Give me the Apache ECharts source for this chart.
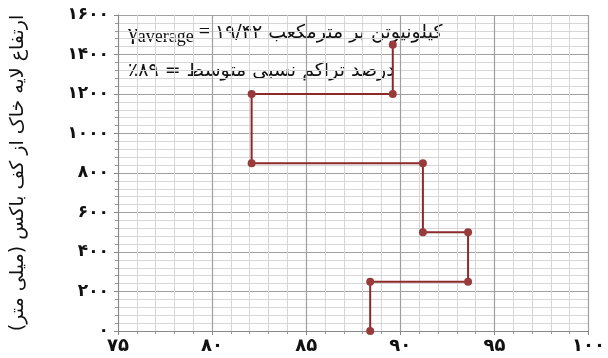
<!DOCTYPE html>
<html>
<head>
<meta charset="utf-8">
<script src="https://cdn.jsdelivr.net/npm/echarts@6/dist/echarts.min.js"></script>
<style>
  html, body { margin: 0; padding: 0; background: #fff; }
  #chart { width: 608px; height: 358px; }
</style>
</head>
<body>
<div id="chart"></div>
<script>
// density (%) vs height of soil layer (mm), step profile
const density = [88.4, 88.4, 93.6, 93.6, 91.2, 91.2, 82.1, 82.1, 89.6, 89.6]
const height = [0, 250, 250, 500, 500, 850, 850, 1200, 1200, 1450]

const xTicks = [75, 80, 85, 90, 95, 100]
const xTickLabels = ['۷۵', '۸۰', '۸۵', '۹۰', '۹۵', '۱۰۰']
const yTicks = [0, 200, 400, 600, 800, 1000, 1200, 1400, 1600]
const yTickLabels = ['۰', '۲۰۰', '۴۰۰', '۶۰۰', '۸۰۰', '۱۰۰۰', '۱۲۰۰', '۱۴۰۰', '۱۶۰۰']

const yName = '\u200Fارتفاع لایه خاک از کف باکس (میلی متر)\u200F'
const note1Value = '۱۹/۴۲ کیلونیوتن بر مترمکعب'
const note2 = '٪۸۹ = درصد تراکم نسبی متوسط'

const faFont = '"DejaVu Sans", sans-serif'
const serif = '"Liberation Serif", serif'

const chart = echarts.init(document.getElementById('chart'), null, { renderer: 'canvas' })

chart.setOption({
  animation: false,
  grid: {
    left: 118,
    right: 12,
    top: 15,
    bottom: 27
  },
  xAxis: {
    type: 'value',
    min: 75,
    max: 100,
    interval: 5,
    axisLine: { show: true, lineStyle: { color: '#888', width: 1 } },
    axisTick: { show: true, length: 4, lineStyle: { color: '#888' } },
    minorTick: { show: true, splitNumber: 5, length: 3, lineStyle: { color: '#999' } },
    splitLine: { show: true, lineStyle: { color: '#a0a0a0', width: 1.2 } },
    minorSplitLine: { show: true, lineStyle: { color: '#d6d6d6', width: 1 } },
    axisLabel: {
      color: '#111',
      fontFamily: faFont,
      fontSize: 18,
      fontWeight: 'bold',
      margin: 6,
      formatter: v => xTickLabels[xTicks.indexOf(v)]
    }
  },
  yAxis: {
    type: 'value',
    min: 0,
    max: 1600,
    interval: 200,
    name: yName,
    nameLocation: 'middle',
    nameGap: 90,
    nameTextStyle: {
      color: '#111',
      fontFamily: faFont,
      fontSize: 19
    },
    axisLine: { show: true, lineStyle: { color: '#888', width: 1 } },
    axisTick: { show: true, length: 4, lineStyle: { color: '#888' } },
    minorTick: { show: true, splitNumber: 5, length: 3, lineStyle: { color: '#999' } },
    splitLine: { show: true, lineStyle: { color: '#a0a0a0', width: 1.2 } },
    minorSplitLine: { show: true, lineStyle: { color: '#d6d6d6', width: 1 } },
    axisLabel: {
      color: '#111',
      fontFamily: faFont,
      fontSize: 17,
      fontWeight: 'bold',
      margin: 9,
      formatter: v => yTickLabels[yTicks.indexOf(v)]
    }
  },
  graphic: [
    {
      type: 'text',
      left: 128,
      top: 22,
      style: {
        text: '{g|γ}{s|average}{e| = }{v|' + note1Value + '}',
        rich: {
          g: { fontFamily: serif, fontSize: 22, fill: '#111' },
          s: { fontFamily: serif, fontSize: 18, fill: '#111', padding: [8, 0, 0, 0] },
          e: { fontFamily: serif, fontSize: 20, fill: '#111' },
          v: { fontFamily: faFont, fontSize: 19, fill: '#111' }
        }
      }
    },
    {
      type: 'text',
      left: 128,
      top: 62,
      style: {
        text: note2,
        fontFamily: faFont,
        fontSize: 19,
        fill: '#111'
      }
    }
  ],
  series: [{
    type: 'line',
    data: density.map((d, i) => [d, height[i]]),
    symbol: 'circle',
    symbolSize: 8,
    lineStyle: { color: '#8c2a2a', width: 2 },
    itemStyle: { color: '#9a3b3b' }
  }]
})
</script>
</body>
</html>
